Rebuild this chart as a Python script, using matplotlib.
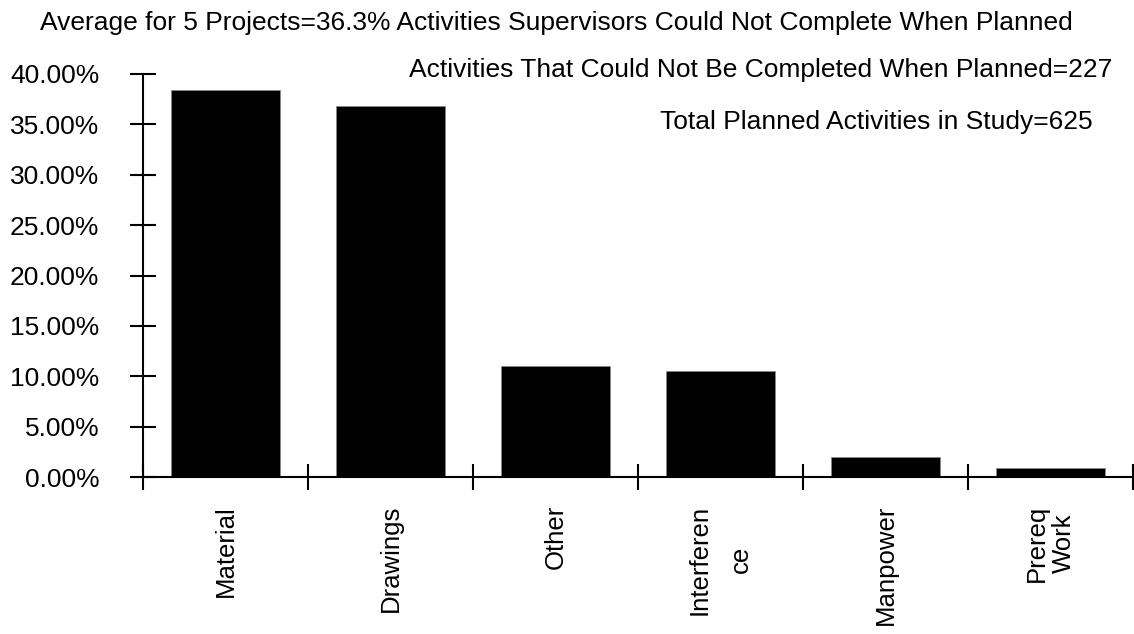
import numpy as np
import matplotlib
matplotlib.use("Agg")
import matplotlib.pyplot as plt
from matplotlib.ticker import MultipleLocator, FuncFormatter

# data (percent of activities not completed when planned)
categories = ["Material", "Drawings", "Other", "Interferen\nce", "Manpower", "Prereq\nWork"]
pct_values = [38.4, 36.8, 11.0, 10.5, 2.0, 0.9]

title_txt = "Average for 5 Projects=36.3% Activities Supervisors Could Not Complete When Planned"
note_1 = "Activities That Could Not Be Completed When Planned=227"
note_2 = "Total Planned Activities in Study=625"

plt.rcParams['font.family'] = ['Liberation Sans', 'DejaVu Sans']
fs = 19

fig = plt.figure(figsize=(11.34, 6.34), dpi=100)
ax = fig.add_axes([0.1261, 0.2476, 0.8730, 0.6357])

x = np.arange(len(categories))
ax.bar(x, pct_values, width=0.66, color="black", edgecolor="#888888", linewidth=0.6)

ax.set_xlim(-0.5, len(categories) - 0.5)
ax.set_ylim(0, 40)
ax.yaxis.set_major_locator(MultipleLocator(5))
ax.yaxis.set_major_formatter(FuncFormatter(lambda v, p: f"{v:.2f}%"))

# category ticks sit at the boundaries, labels at bar centres
ax.set_xticks(np.arange(len(categories) + 1) - 0.5)
ax.set_xticklabels([])
ax.set_xticks(x, minor=True)
ax.set_xticklabels(categories, minor=True, rotation=90, fontsize=18.5,
                   multialignment="center", va="top", ha="center")
for lbl in ax.get_xticklabels(minor=True):
    if lbl.get_text().startswith("Interferen"):
        lbl.set_linespacing(1.9)
ax.tick_params(axis="x", which="minor", length=0, pad=20)
ax.tick_params(axis="x", which="major", direction="inout", length=19, width=1.5)
ax.tick_params(axis="y", direction="inout", length=19, width=1.5, labelsize=fs, pad=22)

for s in ["top", "right"]:
    ax.spines[s].set_visible(False)
for s in ["left", "bottom"]:
    ax.spines[s].set_linewidth(1.5)

fig.text(0.4907, 0.9527, title_txt, ha="center", va="baseline", fontsize=fs)
fig.text(0.9806, 0.8785, note_1, ha="right", va="baseline", fontsize=fs)
fig.text(0.9638, 0.7965, note_2, ha="right", va="baseline", fontsize=fs)

fig.savefig("out.png", dpi=100)
